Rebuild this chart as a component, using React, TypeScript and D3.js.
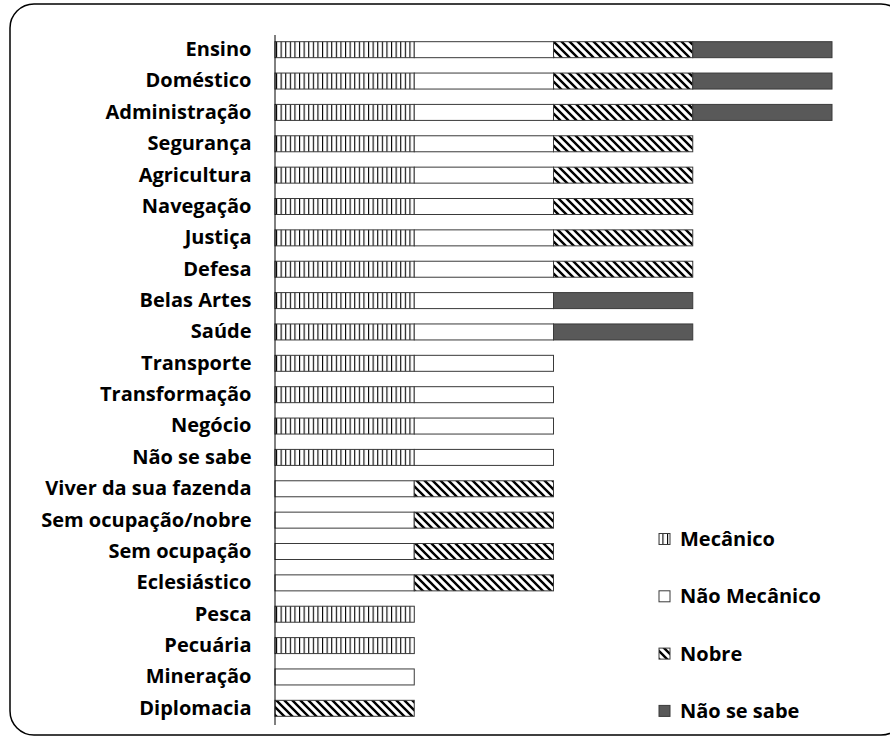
import React, { useEffect, useRef } from 'react';
import * as d3 from 'd3';

const categories = [
  'Ensino', 'Doméstico', 'Administração', 'Segurança', 'Agricultura', 'Navegação',
  'Justiça', 'Defesa', 'Belas Artes', 'Saúde', 'Transporte', 'Transformação',
  'Negócio', 'Não se sabe', 'Viver da sua fazenda', 'Sem ocupação/nobre',
  'Sem ocupação', 'Eclesiástico', 'Pesca', 'Pecuária', 'Mineração', 'Diplomacia',
];

const seriesNames = ['Mecânico', 'Não Mecânico', 'Nobre', 'Não se sabe'];

// one value per category, same order as categories
const mecanico = [1, 1, 1, 1, 1, 1, 1, 1, 1, 1, 1, 1, 1, 1, 0, 0, 0, 0, 1, 1, 0, 0];
const naoMecanico = [1, 1, 1, 1, 1, 1, 1, 1, 1, 1, 1, 1, 1, 1, 1, 1, 1, 1, 0, 0, 1, 0];
const nobre = [1, 1, 1, 1, 1, 1, 1, 1, 0, 0, 0, 0, 0, 0, 1, 1, 1, 1, 0, 0, 0, 1];
const naoSeSabe = [1, 1, 1, 0, 0, 0, 0, 0, 1, 1, 0, 0, 0, 0, 0, 0, 0, 0, 0, 0, 0, 0];

const fills = ['url(#vert)', '#ffffff', 'url(#diag)', '#595959'];

const App = () => {
  const ref = useRef<SVGSVGElement>(null);

  useEffect(() => {
    const svg = d3.select(ref.current);
    svg.selectAll('*').remove();

    const width = 890;
    const height = 737;
    const font = '"Open Sans", "Noto Sans", sans-serif';

    const defs = svg.append('defs');
    const vert = defs.append('pattern')
      .attr('id', 'vert').attr('patternUnits', 'userSpaceOnUse')
      .attr('width', 4.6).attr('height', 10);
    vert.append('rect').attr('width', 4.6).attr('height', 10).attr('fill', '#fff');
    vert.append('line').attr('x1', 0.5).attr('x2', 0.5).attr('y1', 0).attr('y2', 10)
      .attr('stroke', '#000').attr('stroke-width', 1.2);

    const diag = defs.append('pattern')
      .attr('id', 'diag').attr('patternUnits', 'userSpaceOnUse')
      .attr('width', 8).attr('height', 8);
    diag.append('rect').attr('width', 8).attr('height', 8).attr('fill', '#fff');
    diag.append('path').attr('d', 'M-2,-2L10,10M-2,6L2,10M6,-2L10,2')
      .attr('stroke', '#000').attr('stroke-width', 2.4);

    // frame
    svg.append('rect')
      .attr('x', 10).attr('y', 4).attr('width', 895).attr('height', 731)
      .attr('rx', 24).attr('fill', 'none').attr('stroke', '#000').attr('stroke-width', 1.5);

    const x = d3.scaleLinear().domain([0, 4]).range([275, 832]);
    const y = d3.scaleBand<string>()
      .domain(categories)
      .range([34, 724])
      .paddingInner(0.49)
      .paddingOuter(0.245);

    const rows = categories.map((c, i) => ({
      category: c,
      values: [mecanico[i], naoMecanico[i], nobre[i], naoSeSabe[i]],
    }));

    const segs: { category: string; s: number; x0: number; x1: number }[] = [];
    rows.forEach(r => {
      let acc = 0;
      r.values.forEach((v, s) => {
        if (v > 0) segs.push({ category: r.category, s, x0: acc, x1: acc + v });
        acc += v;
      });
    });

    svg.append('g').selectAll('rect')
      .data(segs)
      .enter().append('rect')
      .attr('x', d => x(d.x0))
      .attr('y', d => y(d.category)!)
      .attr('width', d => x(d.x1) - x(d.x0))
      .attr('height', y.bandwidth())
      .attr('fill', d => fills[d.s])
      .attr('stroke', '#3a3a3a')
      .attr('stroke-width', 1);

    // axis
    const axis = svg.append('g')
      .attr('transform', `translate(${x(0)},0)`)
      .call(d3.axisLeft(y).tickSize(0).tickPadding(23.5));
    axis.select('.domain').attr('d', `M0,${y.range()[0] + 1}V${y.range()[1] + 1}`)
      .attr('stroke', '#000').attr('stroke-width', 1);
    axis.selectAll('text')
      .attr('font-family', font).attr('font-size', 20).attr('font-weight', 700)
      .attr('fill', '#000');

    // legend
    const legend = svg.append('g');
    seriesNames.forEach((name, i) => {
      const cy = 539 + i * 57.3;
      legend.append('rect')
        .attr('x', 659).attr('y', cy - 5.5).attr('width', 11).attr('height', 11)
        .attr('fill', fills[i]).attr('stroke', '#3a3a3a').attr('stroke-width', 1);
      legend.append('text')
        .attr('x', 680).attr('y', cy).attr('dy', '0.35em')
        .attr('font-family', font).attr('font-size', 20).attr('font-weight', 700)
        .attr('fill', '#000')
        .text(name);
    });

    svg.attr('width', width).attr('height', height);
  }, []);

  return (
    <svg ref={ref} width={890} height={737}
      style={{ position: 'absolute', left: 0, top: 0, background: '#fff' }} />
  );
};

export default App;
